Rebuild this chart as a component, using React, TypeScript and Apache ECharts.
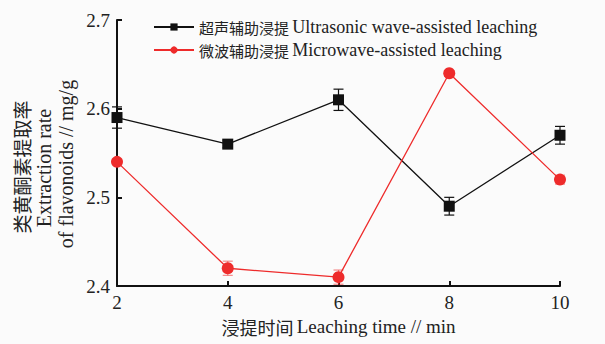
import React, { useEffect, useRef } from "react";
import * as echarts from "echarts";

// Leaching time (min)
const leachingTimes = [2, 4, 6, 8, 10];
// Flavonoid extraction rate (mg/g), ultrasonic wave-assisted leaching
const ultrasonicRates = [2.59, 2.56, 2.61, 2.49, 2.57];
const ultrasonicErrors = [0.012, 0.004, 0.012, 0.01, 0.01];
// Flavonoid extraction rate (mg/g), microwave-assisted leaching
const microwaveRates = [2.54, 2.42, 2.41, 2.64, 2.52];
const microwaveErrors = [0.003, 0.008, 0.008, 0.003, 0.005];

const ultrasonicName = "超声辅助浸提 Ultrasonic wave-assisted leaching";
const microwaveName = "微波辅助浸提 Microwave-assisted leaching";

const LATIN = "'Liberation Serif', 'Times New Roman', serif";
const CJK = "'Noto Sans CJK SC', sans-serif";

const BLACK = "#111111";
const RED = "#ee2b2b";

function splitName(name: string) {
  const i = name.indexOf(" ");
  return `{c|${name.slice(0, i)}} {e|${name.slice(i + 1)}}`;
}

function errorBars(values: number[], errors: number[]) {
  return leachingTimes.map((x, i) => [x, values[i] - errors[i], values[i] + errors[i]]);
}

function errorRenderer(color: string) {
  return (_params: any, api: any) => {
    const x = api.value(0);
    const top = api.coord([x, api.value(2)]);
    const bot = api.coord([x, api.value(1)]);
    const half = 5;
    const style = { stroke: color, lineWidth: 1.2 };
    return {
      type: "group",
      children: [
        { type: "line", shape: { x1: top[0], y1: top[1], x2: bot[0], y2: bot[1] }, style },
        { type: "line", shape: { x1: top[0] - half, y1: top[1], x2: top[0] + half, y2: top[1] }, style },
        { type: "line", shape: { x1: bot[0] - half, y1: bot[1], x2: bot[0] + half, y2: bot[1] }, style },
      ],
    };
  };
}

export default function App() {
  const ref = useRef<HTMLDivElement>(null);

  useEffect(() => {
    if (!ref.current) return;
    const chart = echarts.init(ref.current, undefined, { renderer: "svg" });

    const axisLine = { show: true, lineStyle: { color: BLACK, width: 2 } };
    const axisTick = { show: true, inside: true, length: 5, lineStyle: { color: BLACK, width: 2 } };

    chart.setOption({
      animation: false,
      backgroundColor: "#fbfbfb",
      grid: { left: 117, top: 20, width: 443, height: 266, containLabel: false },
      legend: {
        data: [ultrasonicName, microwaveName],
        orient: "vertical",
        left: 148,
        top: 13,
        itemWidth: 40,
        itemHeight: 9,
        itemGap: 5,
        formatter: (name: string) => splitName(name),
        textStyle: {
          color: "#222",
          rich: {
            c: { fontFamily: CJK, fontSize: 15, lineHeight: 19, color: "#222" },
            e: { fontFamily: LATIN, fontSize: 18, lineHeight: 19, color: "#222" },
          },
        },
      },
      xAxis: {
        type: "value",
        min: 2,
        max: 10,
        interval: 2,
        axisLine,
        axisTick,
        splitLine: { show: false },
        axisLabel: { color: "#222", fontFamily: LATIN, fontSize: 19, margin: 7 },
        name: "{c|浸提时间} {e|Leaching time // min}",
        nameLocation: "middle",
        nameGap: 31,
        nameTextStyle: {
          rich: {
            c: { fontFamily: CJK, fontSize: 18, color: "#222" },
            e: { fontFamily: LATIN, fontSize: 19, color: "#222" },
          },
        },
      },
      yAxis: {
        type: "value",
        min: 2.4,
        max: 2.7,
        interval: 0.1,
        axisLine,
        axisTick,
        splitLine: { show: false },
        axisLabel: {
          color: "#222",
          fontFamily: LATIN,
          fontSize: 19,
          margin: 7,
          formatter: (v: number) => v.toFixed(1),
        },
      },
      graphic: [
        {
          type: "text",
          x: 21,
          y: 167,
          rotation: Math.PI / 2,
          style: {
            text: "类黄酮素提取率",
            fontFamily: CJK,
            fontSize: 19,
            fill: "#222",
            align: "center",
            verticalAlign: "middle",
          },
        },
        {
          type: "text",
          x: 44,
          y: 168,
          rotation: Math.PI / 2,
          style: {
            text: "Extraction rate",
            fontFamily: LATIN,
            fontSize: 20,
            fill: "#222",
            align: "center",
            verticalAlign: "middle",
          },
        },
        {
          type: "text",
          x: 66,
          y: 164,
          rotation: Math.PI / 2,
          style: {
            text: "of flavonoids // mg/g",
            fontFamily: LATIN,
            fontSize: 20,
            fill: "#222",
            align: "center",
            verticalAlign: "middle",
          },
        },
      ],
      series: [
        {
          type: "custom",
          name: "ultrasonic-error",
          renderItem: errorRenderer(BLACK),
          data: errorBars(ultrasonicRates, ultrasonicErrors),
          encode: { x: 0, y: [1, 2] },
          z: 1,
          silent: true,
        },
        {
          type: "custom",
          name: "microwave-error",
          renderItem: errorRenderer("rgba(238,43,43,0.55)"),
          data: errorBars(microwaveRates, microwaveErrors),
          encode: { x: 0, y: [1, 2] },
          z: 1,
          silent: true,
        },
        {
          type: "line",
          name: ultrasonicName,
          data: leachingTimes.map((x, i) => [x, ultrasonicRates[i]]),
          symbol: "rect",
          symbolSize: 11,
          clip: false,
          z: 3,
          lineStyle: { color: BLACK, width: 1.3 },
          itemStyle: { color: BLACK },
        },
        {
          type: "line",
          name: microwaveName,
          data: leachingTimes.map((x, i) => [x, microwaveRates[i]]),
          symbol: "circle",
          symbolSize: 12,
          clip: false,
          z: 4,
          lineStyle: { color: RED, width: 1.3 },
          itemStyle: { color: RED },
        },
      ],
    });

    return () => chart.dispose();
  }, []);

  return (
    <div
      ref={ref}
      style={{ position: "fixed", left: 0, top: 0, width: 605, height: 344 }}
    />
  );
}
